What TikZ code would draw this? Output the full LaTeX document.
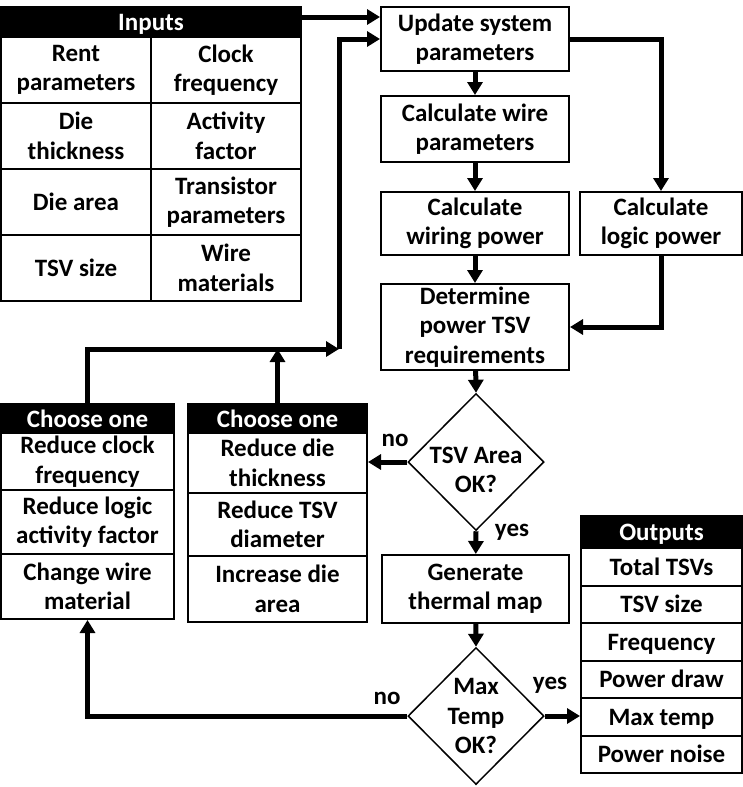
\documentclass[tikz,border=0pt]{standalone}
\usepackage{fontspec}
\setmainfont{Carlito}
\usetikzlibrary{shapes.geometric,arrows.meta}

\tikzset{
  every node/.style={font=\fontsize{25}{29.5}\selectfont\bfseries},
  cell/.style={draw, line width=2pt, align=center, inner sep=0pt},
  onecell/.style={cell, text height=20pt, text depth=3pt},
  headcell/.style={onecell, fill=black, text=white},
  decide/.style={diamond, draw, line width=1.5pt, inner sep=0pt, minimum width=136pt, minimum height=137pt},
  link/.style={line width=5pt, -{Triangle[length=13pt,width=15pt]}},
  lbl/.style={inner sep=0pt, align=center},
}

\begin{document}
\begin{tikzpicture}[x=1pt,y=-1pt]
\useasboundingbox (0,0) rectangle (743,787);

% inputs
\node[headcell, minimum width=300pt, minimum height=30pt] (inp) at (151,22) {Inputs};
\node[cell, minimum width=150pt, minimum height=66pt] (in1) at (76,70) {Rent\\parameters};
\node[cell, minimum width=150pt, minimum height=66pt] (in2) at (226,70) {Clock\\frequency};
\node[cell, minimum width=150pt, minimum height=66pt] (in3) at (76,136) {Die\\thickness};
\node[cell, minimum width=150pt, minimum height=66pt] (in4) at (226,136) {Activity\\factor};
\node[onecell, minimum width=150pt, minimum height=66pt] (in5) at (76,202) {Die area};
\node[cell, minimum width=150pt, minimum height=66pt] (in6) at (226,202) {Transistor\\parameters};
\node[onecell, minimum width=150pt, minimum height=66pt] (in7) at (76,268) {TSV size};
\node[cell, minimum width=150pt, minimum height=66pt] (in8) at (226,268) {Wire\\materials};

% main flow
\node[cell, minimum width=188pt, minimum height=64pt] (upd) at (475,39) {Update system\\parameters};
\node[cell, minimum width=188pt, minimum height=66pt] (wire) at (475,129) {Calculate wire\\parameters};
\node[cell, minimum width=188pt, minimum height=63pt] (wpow) at (475,223.5) {Calculate\\wiring power};
\node[cell, minimum width=162pt, minimum height=63pt] (logic) at (661,223.5) {Calculate\\logic power};
\node[cell, minimum width=188pt, minimum height=86pt] (det) at (475,327) {Determine\\power TSV\\requirements};
\node[decide] (area) at (476,462) {};
\node[lbl] (areatxt) at (476,470) {TSV Area\\OK?};
\node[cell, minimum width=187pt, minimum height=68pt] (gen) at (475.5,589) {Generate\\thermal map};
\node[decide] (temp) at (476,716) {};
\node[lbl] (temptxt) at (476,716) {Max\\Temp\\OK?};

% choose one (left)
\node[headcell, minimum width=173pt, minimum height=29pt] (c1) at (87.5,418.5) {Choose one};
\node[cell, minimum width=173pt, minimum height=57pt] (c1a) at (87.5,461.5) {Reduce clock\\frequency};
\node[cell, minimum width=173pt, minimum height=64pt] (c1b) at (87.5,522) {Reduce logic\\activity factor};
\node[cell, minimum width=173pt, minimum height=65pt] (c1c) at (87.5,586.5) {Change wire\\material};

% choose one (right)
\node[headcell, minimum width=179pt, minimum height=29pt] (c2) at (277.5,418.5) {Choose one};
\node[cell, minimum width=179pt, minimum height=60pt] (c2a) at (277.5,463) {Reduce die\\thickness};
\node[cell, minimum width=179pt, minimum height=63pt] (c2b) at (277.5,524.5) {Reduce TSV\\diameter};
\node[cell, minimum width=179pt, minimum height=66pt] (c2c) at (277.5,589) {Increase die\\area};

% outputs
\node[headcell, minimum width=161pt, minimum height=32pt] (out) at (661.5,532) {Outputs};
\foreach \i/\t in {1/Total TSVs, 2/TSV size, 3/Frequency, 4/Power draw, 5/Max temp, 6/Power noise}
  \node[onecell, minimum width=161pt, minimum height=37.5pt] (out\i) at (661.5,529.25+37.5*\i) {\t};

% connectors
\coordinate (join) at (339,349);
\draw[link] ([yshift=5pt]inp.east) coordinate (i0) -- (i0 -| upd.west);
\draw[link] (join) |- (upd.west);
\draw[link] (c1.north) |- (join);
\draw[link] (c2.north) -- (c2.north |- join);
\draw[link] (upd) -- (wire);
\draw[link] (wire) -- (wpow);
\draw[link] (wpow) -- (det);
\draw[link] (upd.east) -| (logic.north);
\draw[link] (logic.south) |- (det.east);
\draw[link] (det) -- (area.north);
\draw[link] (area.west) -- (area.west -| c2a.east);
\draw[link] (area.south) -- (gen);
\draw[link] (gen) -- (temp.north);
\draw[link] (temp.west) -| (c1c.south);
\draw[link] (temp.east) -- (temp.east -| out5.west);

% labels
\node[lbl] (noA) at (395,440) {no};
\node[lbl] (yesA) at (512,532) {yes};
\node[lbl] (noT) at (387,698) {no};
\node[lbl] (yesT) at (550,685) {yes};
\end{tikzpicture}
\end{document}
